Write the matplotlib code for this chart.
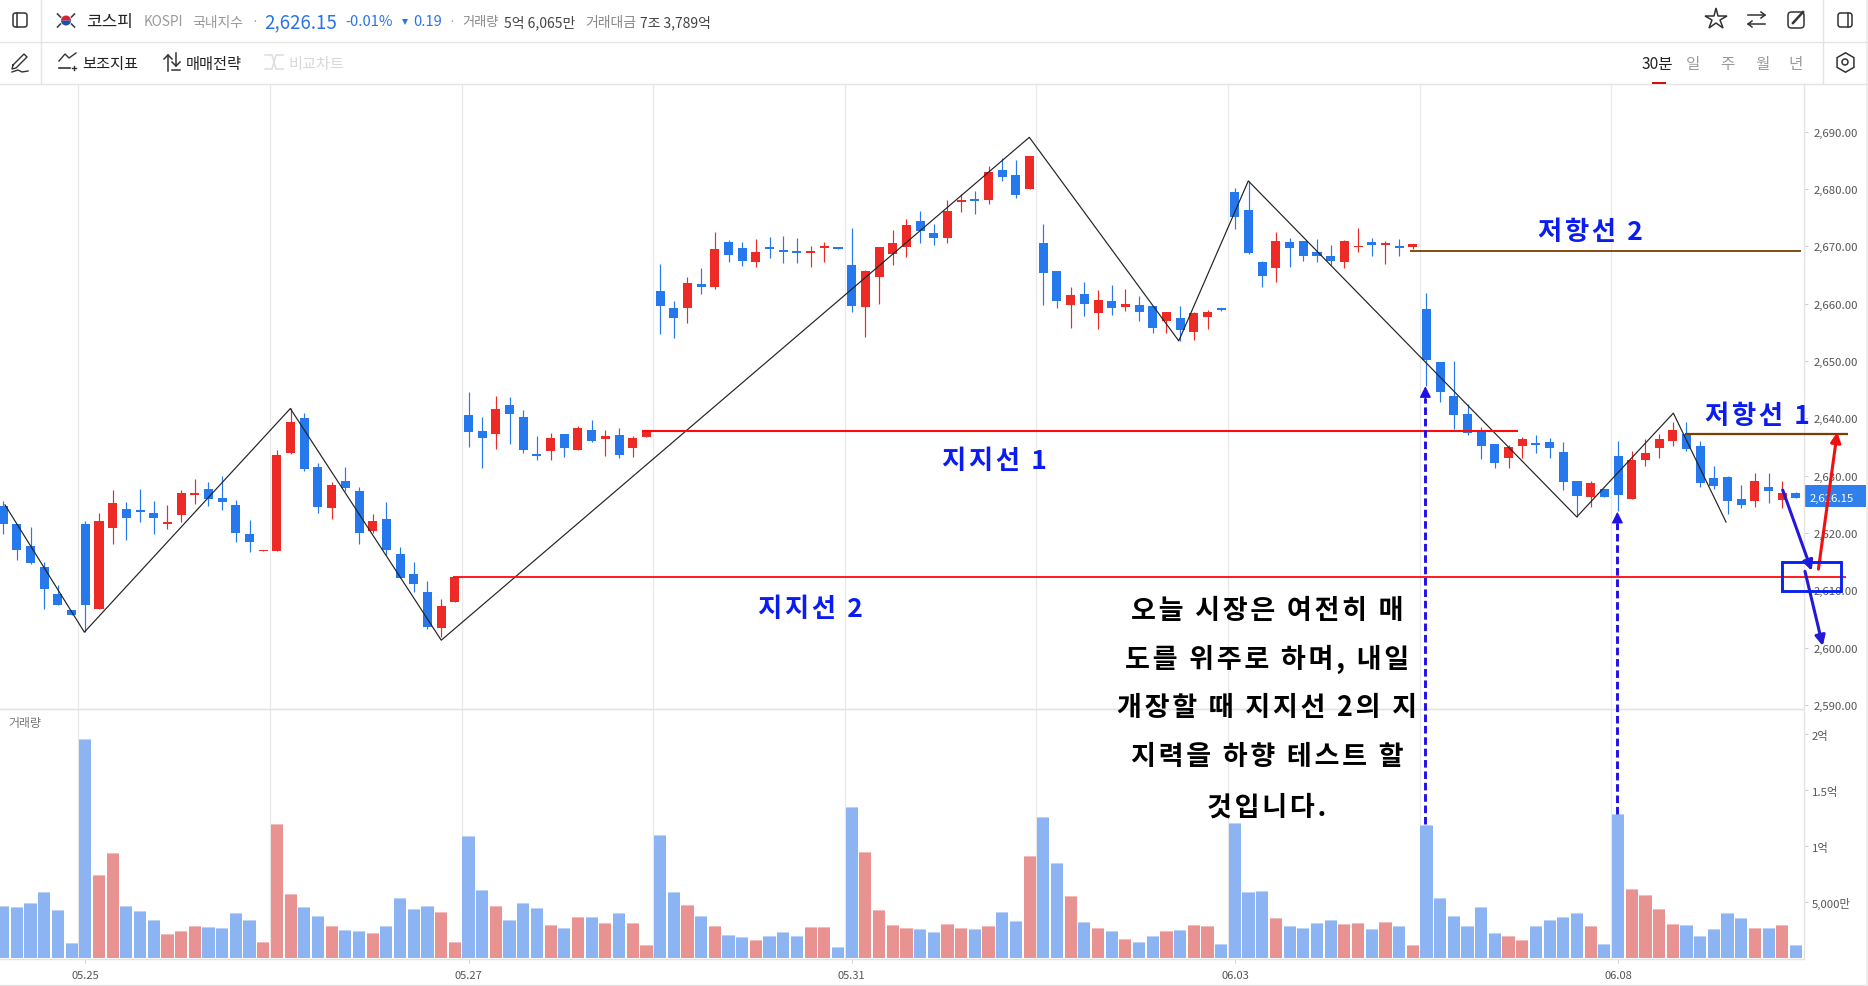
import matplotlib
matplotlib.use("Agg")
import matplotlib.pyplot as plt
from matplotlib.patches import Rectangle, Circle, Wedge, FancyBboxPatch

plt.rcParams['font.family'] = ['Noto Sans CJK KR', 'DejaVu Sans']

opens = [2624.7,2621.6,2617.7,2614.1,2609.4,2606.6,2621.6,2606.7,2620.9,2624.2,2624.0,2623.5,2621.6,2623.1,
2626.6,2627.7,2626.1,2624.9,2619.8,2616.9,2616.9,2633.9,2640.0,2631.5,2624.4,2629.1,2627.3,2620.3,
2622.4,2616.3,2612.8,2609.7,2603.4,2608.0,2640.6,2637.8,2637.3,2642.3,2640.2,2633.8,2634.3,2637.3,
2634.5,2637.9,2636.4,2637.1,2634.8,2636.7,2662.2,2659.2,2659.2,2663.4,2662.9,2670.7,2669.7,2667.3,
2669.9,2669.3,2669.2,2668.8,2669.7,2669.9,2666.7,2659.4,2664.6,2668.6,2669.9,2674.4,2672.3,2671.4,
2677.7,2678.2,2678.1,2683.3,2682.4,2680.0,2670.6,2665.7,2659.8,2661.7,2658.4,2660.5,2659.4,2659.8,
2659.6,2656.9,2657.5,2655.0,2657.7,2659.2,2679.5,2676.3,2667.3,2666.2,2670.7,2670.9,2669.0,2668.3,
2667.3,2669.9,2670.7,2670.2,2670.0,2669.9,2659.1,2649.8,2643.9,2640.7,2637.8,2635.5,2633.1,2635.2,
2635.7,2635.9,2634.1,2629.1,2626.3,2627.7,2633.4,2625.9,2632.7,2634.8,2636.0,2637.3,2635.2,2629.6,
2629.8,2625.9,2625.6,2628.0,2625.8,2627.0]

closes = [2621.5,2617.0,2614.8,2610.2,2607.4,2605.7,2607.4,2622.1,2625.2,2622.6,2623.7,2622.6,2621.9,2627.0,
2627.0,2625.9,2625.4,2620.0,2618.4,2617.0,2633.6,2639.4,2631.2,2624.5,2628.4,2627.8,2620.0,2622.1,
2617.0,2612.2,2611.1,2603.6,2607.3,2612.3,2637.6,2636.6,2641.6,2640.7,2634.5,2633.4,2636.6,2634.8,
2638.3,2636.0,2636.9,2633.6,2636.6,2637.9,2659.6,2657.5,2663.6,2662.9,2669.5,2668.5,2667.4,2669.0,
2669.5,2669.0,2668.8,2669.2,2670.0,2669.5,2659.6,2665.7,2669.9,2670.6,2673.7,2672.6,2671.4,2676.1,
2678.1,2677.9,2682.9,2682.1,2678.9,2685.7,2665.3,2660.5,2661.5,2659.9,2660.6,2659.2,2659.9,2658.5,
2655.7,2658.5,2655.4,2658.4,2658.5,2658.9,2675.1,2668.8,2664.8,2670.9,2669.7,2668.3,2668.3,2667.4,
2670.9,2670.0,2670.2,2670.6,2669.7,2670.4,2650.2,2644.6,2640.6,2637.4,2635.2,2632.2,2635.0,2636.4,
2635.3,2634.8,2628.9,2626.5,2628.7,2626.3,2626.6,2632.7,2634.0,2636.4,2638.0,2634.7,2628.7,2628.2,
2625.6,2624.9,2629.1,2627.3,2627.0,2626.15]

highs = [2625.6,2621.6,2621.0,2615.0,2610.9,2606.6,2622.1,2623.5,2627.5,2625.4,2627.7,2625.6,2624.9,2627.5,
2629.4,2628.9,2630.0,2625.8,2622.3,2617.0,2634.5,2641.8,2640.9,2632.2,2628.9,2631.5,2628.0,2623.3,
2625.4,2617.6,2615.0,2611.6,2608.5,2612.3,2644.6,2640.2,2643.9,2643.7,2641.4,2636.9,2637.4,2637.3,
2638.7,2639.7,2637.9,2638.3,2636.9,2637.9,2666.9,2660.5,2664.6,2666.2,2672.5,2671.1,2670.7,2671.3,
2671.6,2671.8,2671.4,2670.0,2670.7,2669.9,2673.2,2665.9,2669.9,2672.8,2674.7,2676.1,2673.9,2678.0,
2679.1,2679.6,2684.0,2685.4,2685.0,2685.7,2673.9,2665.7,2662.9,2663.8,2662.4,2663.2,2662.5,2661.3,
2659.6,2658.5,2659.6,2658.5,2658.9,2659.2,2680.1,2681.4,2667.4,2672.5,2671.4,2670.9,2671.3,2670.2,
2671.1,2673.2,2671.4,2670.9,2671.3,2670.4,2661.8,2649.8,2650.0,2642.5,2638.5,2635.5,2635.3,2636.7,
2637.1,2636.6,2635.9,2629.1,2629.1,2627.7,2636.0,2634.3,2636.4,2637.3,2639.4,2639.4,2636.0,2631.7,
2629.9,2628.4,2630.5,2630.5,2629.1,2627.2]

lows = [2619.9,2615.3,2614.6,2606.7,2607.4,2605.7,2602.7,2606.7,2618.0,2618.8,2621.9,2619.8,2620.7,2621.9,
2625.1,2624.7,2624.0,2618.4,2616.7,2616.9,2616.9,2633.8,2630.8,2623.5,2622.4,2627.3,2618.1,2620.0,
2616.2,2612.2,2609.7,2603.3,2601.9,2608.0,2635.0,2631.3,2634.7,2635.5,2633.9,2632.7,2632.7,2633.2,
2634.5,2635.9,2633.4,2633.1,2633.3,2636.7,2654.7,2654.0,2656.6,2661.7,2662.5,2667.3,2666.6,2666.4,
2667.9,2667.1,2667.1,2666.4,2667.3,2669.5,2658.5,2654.2,2659.9,2666.7,2668.1,2670.6,2670.2,2670.6,
2676.0,2675.6,2677.4,2681.4,2678.4,2680.0,2659.8,2659.2,2655.7,2657.8,2655.6,2658.0,2658.7,2656.9,
2654.9,2654.9,2653.5,2653.6,2655.6,2658.7,2673.0,2668.6,2662.9,2663.8,2666.4,2667.4,2667.3,2666.7,
2666.2,2669.0,2668.3,2666.9,2668.3,2669.5,2645.6,2642.9,2638.1,2637.1,2632.9,2631.3,2631.3,2633.1,
2634.0,2633.1,2627.5,2622.8,2624.5,2626.3,2623.8,2625.9,2631.7,2633.1,2635.2,2634.3,2628.0,2627.7,
2623.3,2624.4,2624.5,2625.2,2624.4,2626.15]

# 거래량, 만 units
volumes = [4643,4553,4910,5892,4285,1339,19552,7410,9374,4643,4196,3393,2143,2411,
2857,2768,2678,4018,3393,1428,11964,5714,4553,3750,2857,2500,2411,2232,
2857,5357,4375,4643,4107,1428,10892,6071,4643,3393,4910,4464,2946,2678,
3660,3660,3125,4018,3125,1161,10981,5892,4732,3750,2857,2053,1875,1607,
1964,2321,1964,2768,2768,982,13481,9464,4285,2946,2678,2589,2321,3036,
2678,2589,2857,4107,3303,9107,12588,8482,5535,3214,2678,2411,1696,1428,
1964,2411,2500,2946,2857,1250,12053,5892,5982,3571,2857,2678,3125,3393,
3036,3125,2589,3214,2857,1161,11874,5357,3750,2857,4553,2232,1964,1607,
2857,3393,3660,4018,2857,1250,12856,6160,5625,4375,3036,2946,1964,2589,
4018,3571,2678,2678,2946,1161]

date_positions = [6, 34, 62, 90, 118]
date_labels = ['05.25', '05.27', '05.31', '06.03', '06.08']
session_starts = [6, 20, 34, 48, 62, 76, 90, 104, 118]

price_ticks = [2590, 2600, 2610, 2620, 2630, 2640, 2650, 2660, 2670, 2680, 2690]
volume_ticks = [5000, 10000, 15000, 20000]
volume_tick_labels = ['5,000만', '1억', '1.5억', '2억']

zig_x = [0.13, 5.93, 20.98, 32.01, 74.98, 85.90, 90.98, 114.98, 122.04, 125.89]
zig_p = [2624.9, 2602.7, 2641.7, 2601.3, 2689.0, 2653.5, 2681.4, 2622.8, 2640.9, 2621.9]

BLUE, RED = '#2679ec', '#ee2a27'
VBLUE, VRED = '#8cb3f2', '#e89292'
VBLUE_TOP, VRED_TOP = '#bcd2f7', '#f2bcbc'
W, H = 1868, 987
GRID = '#e8e8e8'
LABEL = '#555555'
ANN_BLUE = '#2010e6'
HAIR = '\u200a'

fig = plt.figure(figsize=(W / 100, H / 100), dpi=100, facecolor='white')


def px_axes(x0, y0, x1, y1, **kw):
    return fig.add_axes([x0 / W, 1 - y1 / H, (x1 - x0) / W, (y1 - y0) / H], **kw)


def spaced(s):
    return HAIR.join(s)


AX_R = 1803.5
ax = px_axes(0, 85, AX_R, 710, zorder=3)
av = px_axes(0, 710, AX_R, 960, zorder=2)
ui = fig.add_axes([0, 0, 1, 1], zorder=1)
ui.set_xlim(0, W); ui.set_ylim(H, 0); ui.axis('off')

n = len(opens)
xs = list(range(n))
xlim = (-0.234, 131.55)

# volume panel
av.set_xlim(*xlim); av.set_ylim(-54, 22268)
cap = 95
for i, v in zip(xs, volumes):
    up = closes[i] >= opens[i]
    av.bar(i, v - cap, width=0.89, color=VRED if up else VBLUE, linewidth=0)
    av.bar(i, cap, bottom=v - cap, width=0.89, color=VRED_TOP if up else VBLUE_TOP, linewidth=0)
for s in session_starts:
    av.axvline(s - 0.5, color=GRID, lw=0.9, zorder=0)
av.yaxis.tick_right()
av.set_yticks(volume_ticks); av.set_yticklabels(volume_tick_labels, fontsize=8.2, color=LABEL)
av.set_xticks(date_positions); av.set_xticklabels(date_labels, fontsize=8, color=LABEL)
av.tick_params(axis='both', length=3, width=0.7, color='#cfcfcf', pad=3)
av.tick_params(axis='x', pad=5)
for k, sp in av.spines.items():
    sp.set_color('#e4e4e4'); sp.set_linewidth(1)
av.spines['left'].set_visible(False)

# price panel
ax.set_xlim(*xlim); ax.set_ylim(2589.3, 2698.3)
ax.patch.set_alpha(0)
for s in session_starts:
    ax.axvline(s - 0.5, color=GRID, lw=0.9, zorder=0)
for i in xs:
    c = RED if closes[i] >= opens[i] else BLUE
    ax.vlines(i, lows[i], highs[i], color=c, lw=0.85, zorder=2)
    ax.bar(i, abs(closes[i] - opens[i]), bottom=min(opens[i], closes[i]), width=0.66,
           color=c, linewidth=0, zorder=3)
ax.plot(zig_x, zig_p, color='#222222', lw=0.85, zorder=4)
ax.yaxis.tick_right()
ax.set_yticks(price_ticks)
ax.set_yticklabels([f'{t:,.2f}' for t in price_ticks], fontsize=8.2, color=LABEL)
ax.set_xticks([])
ax.tick_params(axis='y', length=3, width=0.7, color='#cfcfcf', pad=4)
for k, sp in ax.spines.items():
    sp.set_color('#e4e4e4'); sp.set_linewidth(1)
ax.spines['left'].set_visible(False); ax.spines['top'].set_visible(False)

# last price tag
ui.add_patch(Rectangle((AX_R, 486), 62.5, 22, color='#2f80ed', lw=0, zorder=6))
ax.text(1.0035, 2626.15, '2,626.15', transform=ax.get_yaxis_transform(), fontsize=8.2, color='white',
        va='center', ha='left', zorder=1, clip_on=False)

# annotation lines (drawn in chart coordinates, running over the axis)
for x0, x1, p, col, lw in [(46.68, 110.69, 2637.8, '#ff0a0a', 1.5),
                           (32.89, 134.66, 2612.4, '#ff0a0a', 1.3),
                           (102.8, 131.37, 2669.2, '#7a3f00', 1.3),
                           (122.9, 134.8, 2637.3, '#7a3f00', 1.6)]:
    ax.plot([x0, x1], [p, p], color=col, lw=lw, clip_on=False, zorder=5, solid_capstyle='butt')

for x, base, tip in [(103.92, 2569.3, 2645.6), (117.95, 2571.0, 2623.7)]:
    ax.plot([x, x], [base, tip - 2], color=ANN_BLUE, lw=2.1, ls=(0, (2.6, 1.3)), clip_on=False, zorder=6)
    ax.annotate('', xy=(x, tip), xytext=(x, tip - 2.4), annotation_clip=False, zorder=6,
                arrowprops=dict(arrowstyle='-|>', mutation_scale=17, color=ANN_BLUE, lw=1, shrinkA=0, shrinkB=0))

for x0, p0, x1, p1, col in [(130.03, 2627.5, 132.15, 2613.4, '#2618d8'),
                            (132.64, 2613.7, 134.02, 2637.6, '#f01010'),
                            (131.66, 2613.3, 132.96, 2600.3, '#2618d8')]:
    ax.annotate('', xy=(x1, p1), xytext=(x0, p0), annotation_clip=False, zorder=7,
                arrowprops=dict(arrowstyle='-|>', mutation_scale=15, color=col, lw=2.2, shrinkA=0, shrinkB=0))

ax.add_patch(Rectangle((129.96, 2609.9), 4.31, 5.1, fill=False, ec='#0a22f0', lw=2.1, clip_on=False, zorder=7))

for idx, price, label in [(116.0, 2672.6, '저항선 2'), (72.4, 2632.65, '지지선 1'),
                          (58.95, 2606.8, '지지선 2'), (128.2, 2640.5, '저항선 1')]:
    ax.text(idx, price, spaced(label), color='#0a1cf0', fontsize=19, fontweight='bold',
            ha='center', va='center', zorder=8, clip_on=False)

para = ['오늘 시장은 여전히 매', '도를 위주로 하며, 내일', '개장할 때 지지선 2의 지',
        '지력을 하향 테스트 할', '것입니다.']
para_p = [2606.65, 2598.05, 2589.65, 2581.05, 2572.35]
for line, p in zip(para, para_p):
    ax.text(92.35, p, spaced(line), color='black', fontsize=19.5, fontweight='bold', ha='center', va='center',
            zorder=8, clip_on=False)

av.text(8 / AX_R, 0.945, '거래량', transform=av.transAxes, fontsize=8.6, color='#777777', va='center')

# ---- window chrome ----
line_c = '#e4e4e4'
for y in (43, 84.5, 986):
    ui.plot([0, W], [y, y], color=line_c, lw=1)
ui.plot([41, 41], [0, 84], color=line_c, lw=1)
ui.plot([1822.7, 1822.7], [0, 84], color=line_c, lw=1)
ui.add_patch(Rectangle((1866, 0), 2, H, color='#eeeeee', lw=0))
ui.add_patch(Rectangle((1652, 82.5), 14, 2, color='#d01010', lw=0, zorder=5))

DK = '#333333'


def panel_icon(cx, cy, right=False):
    ui.add_patch(FancyBboxPatch((cx - 7, cy - 7), 14, 14, boxstyle='round,pad=0,rounding_size=2.5', fill=False, ec=DK, lw=1.1))
    xx = cx + 3 if right else cx - 3
    ui.plot([xx, xx], [cy - 7, cy + 7], color=DK, lw=1.1)


panel_icon(20, 21); panel_icon(1845, 21, right=True)

# flag
fx, fy = 66, 21.5
ui.add_patch(Wedge((fx, fy), 5, 180, 360, color='#d9232e', lw=0))
ui.add_patch(Wedge((fx, fy), 5, 0, 180, color='#1f4fa8', lw=0))
for dx, dy in [(-7, -5), (7, -5), (-7, 5), (7, 5)]:
    ui.plot([fx + dx - 1.5, fx + dx + 1.5], [fy + dy + 1.5, fy + dy - 1.5] if dx * dy < 0 else [fy + dy - 1.5, fy + dy + 1.5],
            color='#444444', lw=1.2)


def t(x, y, s, fs=8.5, c='#888888', **kw):
    ui.text(x, y, s, fontsize=fs, color=c, va='center', **kw)


Y1, Y2 = 22.5, 64
t(86, Y1, '코스피', 12.2, '#222222', fontweight='medium')
t(144, Y1, 'KOSPI', 9.8, '#999999')
t(192, Y1, '국내지수', 10, '#999999')
t(255, Y1, '·', 9, '#999999', ha='center')
t(264.5, Y1, '2,626.15', 13.5, '#2b74e8', fontweight='medium')
t(345, Y1, '-0.01%', 10.6, '#2b74e8')
ui.plot([405], [22.5], marker='v', ms=5, color='#2b74e8', mew=0)
t(413, Y1, '0.19', 10.6, '#2b74e8')
t(452, Y1, '·', 9, '#999999', ha='center')
t(462, Y1, '거래량', 9.5, '#888888')
t(504, Y1, '5억 6,065만', 10, '#444444')
t(585, Y1, '거래대금', 10, '#888888')
t(640, Y1, '7조 3,789억', 10, '#444444')

t(82, Y2, '보조지표', 11, '#222222')
t(186, Y2, '매매전략', 11, '#222222')
t(288, Y2, '비교차트', 11, '#d8d8d8')
t(1642, Y2, '30분', 11.2, '#222222')
for x, s in [(1693, '일'), (1727, '주'), (1762, '월'), (1796, '년')]:
    t(x, Y2, s, 11.2, '#9a9a9a', ha='center')

# toolbar icons
ui.plot([13, 24, 27, 16, 12, 13], [66, 55, 58, 69, 70, 66], color=DK, lw=1)
ui.plot([12, 18, 22, 28], [73, 71, 73, 72], color=DK, lw=1)
ui.plot([59, 65, 69, 76], [62, 55, 59, 54], color=DK, lw=1)
ui.plot([59, 70], [69, 69], color=DK, lw=1.2)
ui.plot([72, 76], [69, 69], color=DK, lw=1); ui.plot([74, 74], [67, 71], color=DK, lw=1)
ui.plot([168, 168], [56, 72], color=DK, lw=1.1); ui.plot([164, 168, 172], [60, 56, 60], color=DK, lw=1.1)
ui.plot([176, 176], [54, 67], color=DK, lw=1.1); ui.plot([172, 176, 180], [63, 67, 63], color=DK, lw=1.1)
ui.plot([172, 180], [71, 71], color=DK, lw=1.1)
ui.plot([265, 272, 276, 283], [56, 56, 70, 70], color='#dddddd', lw=1.1)
ui.plot([265, 272, 276, 283], [70, 70, 56, 56], color='#dddddd', lw=1.1)

ui.plot([1716], [20], marker='*', ms=16, mfc='none', mec=DK, mew=1.1)
ui.plot([1748, 1765], [16, 16], color=DK, lw=1.1); ui.plot([1761, 1765, 1761], [13, 16, 19], color=DK, lw=1.1)
ui.plot([1748, 1765], [25, 25], color=DK, lw=1.1); ui.plot([1752, 1748, 1752], [22, 25, 28], color=DK, lw=1.1)
ui.add_patch(FancyBboxPatch((1788, 13), 16, 16, boxstyle='round,pad=0,rounding_size=3.5', fill=False, ec=DK, lw=1.1))
ui.plot([1793, 1803], [24, 13], color=DK, lw=1.8)
ui.plot([1845], [63], marker='h', ms=14, mfc='none', mec=DK, mew=1.1)
ui.add_patch(Circle((1845, 63), 3, fill=False, ec=DK, lw=1.1))

fig.savefig('out.png', dpi=100, facecolor='white')
